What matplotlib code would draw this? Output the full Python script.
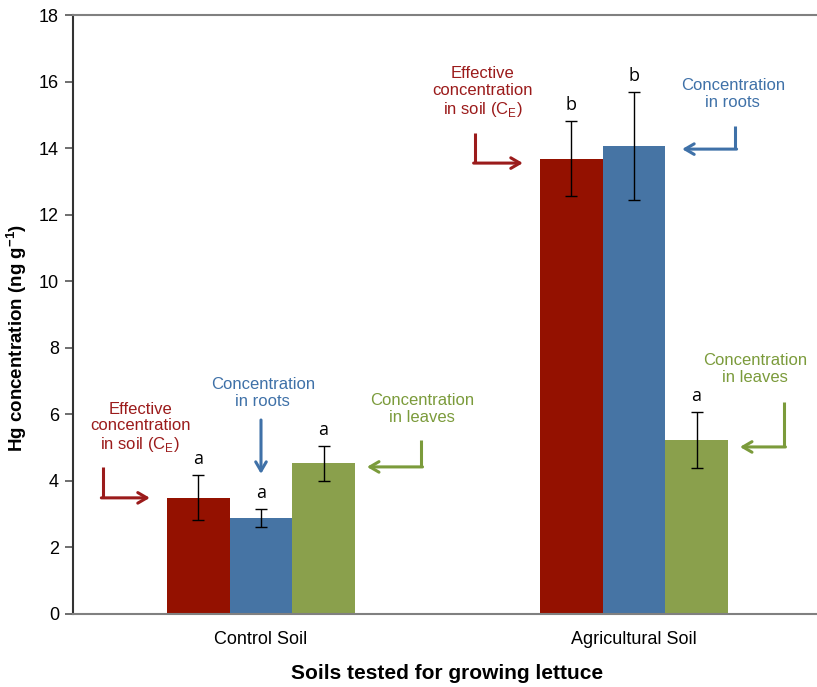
import matplotlib
matplotlib.use("Agg")
import matplotlib.pyplot as plt
import numpy as np

# ---- data ----
soils = ["Control Soil", "Agricultural Soil"]
series = ["Effective concentration in soil", "Concentration in roots", "Concentration in leaves"]
soil_conc = [3.50, 13.68]
soil_err = [0.68, 1.13]
root_conc = [2.88, 14.06]
root_err = [0.27, 1.63]
leaf_conc = [4.53, 5.24]
leaf_err = [0.52, 0.84]
letters_soil = ["a", "b"]
letters_root = ["a", "b"]
letters_leaf = ["a", "a"]
yticks = [0, 2, 4, 6, 8, 10, 12, 14, 16, 18]

bar_colors = ["#941100", "#4674A4", "#8AA04C"]
text_colors = ["#9B1B1B", "#3F71A8", "#7B9B3B"]

plt.rcParams["font.family"] = ["Liberation Sans", "DejaVu Sans"]

fig = plt.figure(figsize=(8.17, 6.87), dpi=100)
W, H = 817, 687
left, right, top, bottom = 73, 822, 15, 614
ax = fig.add_axes([left / W, 1 - bottom / H, (right - left) / W, (bottom - top) / H])

x = np.arange(len(soils))
bw = 0.1676
vals = [soil_conc, root_conc, leaf_conc]
errs = [soil_err, root_err, leaf_err]
lets = [letters_soil, letters_root, letters_leaf]
for i in range(3):
    xs = x + (i - 1) * bw
    ax.bar(xs, vals[i], width=bw, color=bar_colors[i], edgecolor="none", zorder=2)
    ax.errorbar(xs, vals[i], yerr=errs[i], fmt="none", ecolor="black",
                elinewidth=1.0, capsize=4, capthick=1.0, zorder=3)
    for xi, v, e, l in zip(xs, vals[i], errs[i], lets[i]):
        ax.annotate(l, (xi, v + e), xytext=(0, 5), textcoords="offset points",
                    ha="center", va="bottom", fontsize=13, color="black",
                    family=["Open Sans", "DejaVu Sans"])

ax.set_xlim(-0.504, 1.504)
ax.set_ylim(0, 18)
ax.set_yticks(yticks)
ax.set_xticks(x)
ax.set_xticklabels(soils, fontsize=13)
ax.tick_params(axis="x", length=0, pad=12)
ax.tick_params(axis="y", labelsize=13, length=6, width=1.2, color="#555555", direction="out", pad=4)
for s in ["top", "bottom"]:
    ax.spines[s].set_color("#808080")
    ax.spines[s].set_linewidth(1.5)
ax.spines["right"].set_visible(False)
ax.spines["left"].set_color("#333333")
ax.spines["left"].set_linewidth(1.5)

ax.set_ylabel("Hg concentration (ng g$^{\\mathregular{-1}}$)", fontsize=13.5, fontweight="bold")
ax.yaxis.set_label_coords(-0.059, 0.461)
ax.set_xlabel("Soils tested for growing lettuce", fontsize=15, fontweight="bold", labelpad=12)

# ---- annotations ----
def elbow(xv, y0, y1, xe, color):
    ax.plot([xv, xv], [y0, y1], color=color, lw=2.2, solid_capstyle="butt", zorder=4)
    ax.annotate("", xy=(xe, y1), xytext=(xv - 0.004 * np.sign(xe - xv), y1),
                arrowprops=dict(arrowstyle="->,head_length=0.65,head_width=0.38",
                                color=color, lw=2.2, shrinkA=0, shrinkB=0), zorder=4)

def down(xv, y0, y1, color):
    ax.annotate("", xy=(xv, y1), xytext=(xv, y0),
                arrowprops=dict(arrowstyle="->,head_length=0.65,head_width=0.38",
                                color=color, lw=2.2, shrinkA=0, shrinkB=0), zorder=4)

lbl_soil = "Effective\nconcentration\nin soil (C$_\\mathregular{E}$)"
lbl_root = "Concentration\nin roots"
lbl_leaf = "Concentration\nin leaves"
fs = 12

# Control soil
ax.text(-0.324, 5.59, lbl_soil, color=text_colors[0], ha="center", va="center", fontsize=fs, linespacing=1.15)
elbow(-0.424, 4.42, 3.49, -0.298, text_colors[0])
ax.text(0.005, 6.64, lbl_root, color=text_colors[1], ha="center", va="center", fontsize=fs, linespacing=1.15)
down(0.0, 5.83, 4.21, text_colors[1])
ax.text(0.432, 6.16, lbl_leaf, color=text_colors[2], ha="center", va="center", fontsize=fs, linespacing=1.15)
elbow(0.429, 5.23, 4.42, 0.284, text_colors[2])

# Agricultural soil
ax.text(0.595, 15.66, lbl_soil, color=text_colors[0], ha="center", va="center", fontsize=fs, linespacing=1.15)
elbow(0.574, 14.45, 13.55, 0.702, text_colors[0])
ax.text(1.265, 15.63, lbl_root, color=text_colors[1], ha="center", va="center", fontsize=fs, linespacing=1.15)
elbow(1.271, 14.66, 13.97, 1.129, text_colors[1])
ax.text(1.324, 7.36, lbl_leaf, color=text_colors[2], ha="center", va="center", fontsize=fs, linespacing=1.15)
elbow(1.402, 6.37, 5.02, 1.284, text_colors[2])

fig.savefig("out.png", dpi=100)
